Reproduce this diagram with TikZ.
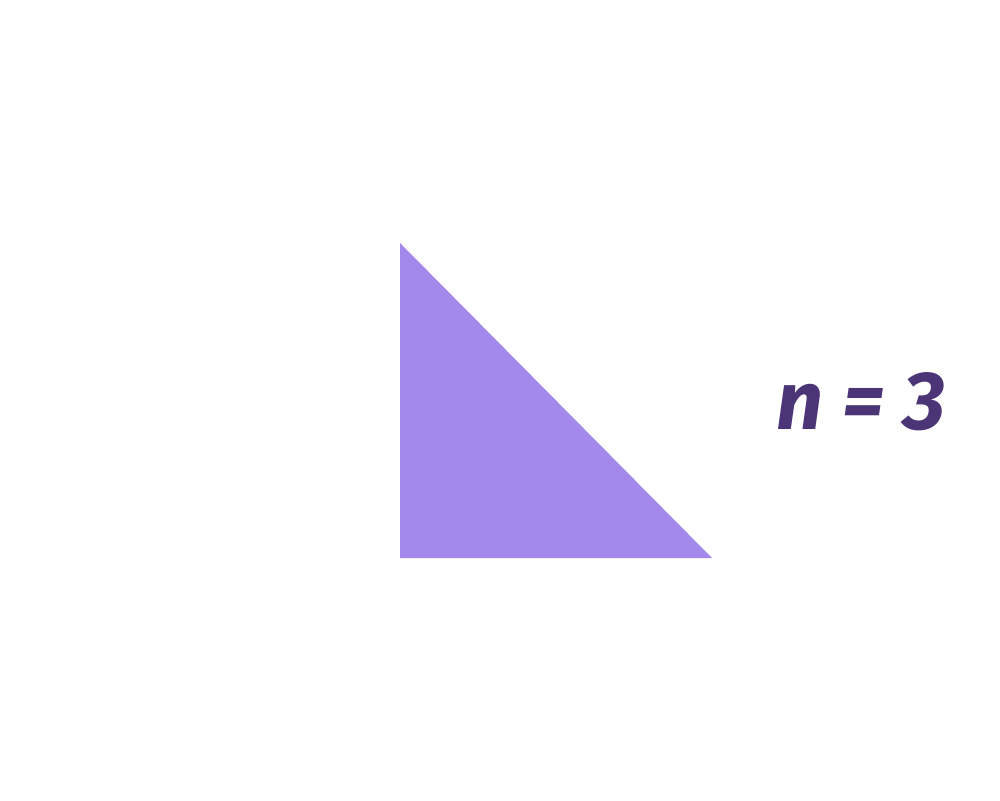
\documentclass[tikz,border=0pt]{standalone}
\usepackage{fontspec}
\newfontfamily\lblfont{Fira Sans}
\definecolor{trifill}{HTML}{A389EB}
\definecolor{txtcol}{HTML}{4B3577}
\tikzset{lbl/.style={text=txtcol,font=\lblfont\bfseries\itshape\fontsize{23.5}{28}\selectfont,inner sep=0pt}}
\begin{document}
\begin{tikzpicture}
\useasboundingbox (0,0) rectangle (10,8);
\fill[trifill] (4.00,5.57) coordinate (a) -- (4.00,2.42) coordinate (b) -- (7.12,2.42) coordinate (c) -- cycle;
\node[lbl] (n) at (8.61,3.98) {n = 3};
\end{tikzpicture}
\end{document}
